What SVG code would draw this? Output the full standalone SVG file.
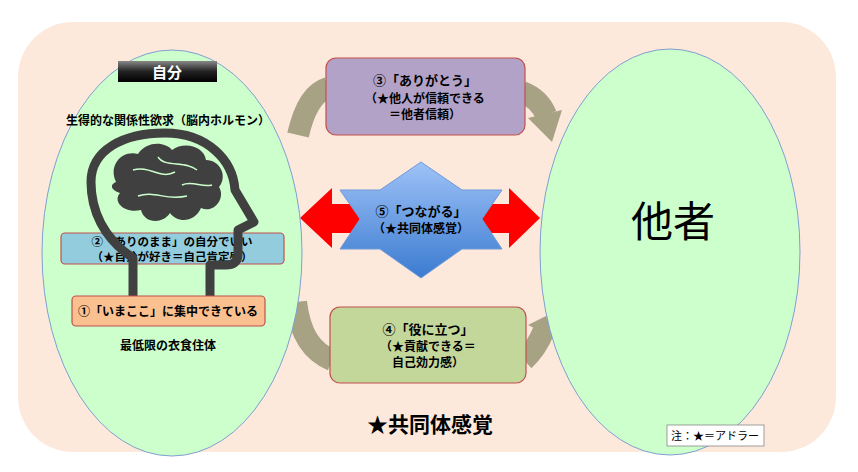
<svg xmlns="http://www.w3.org/2000/svg" width="858" height="472" viewBox="0 0 858 472">
<style>
.t{font-family:"Noto Sans CJK JP","Noto Sans",sans-serif;fill:#000;text-anchor:middle;font-weight:bold}
.box{stroke:#c0504d;stroke-width:1.2}
.arc{fill:none;stroke:#a8a284;stroke-width:22}
.hd{fill:#a8a284}
</style>
<defs>
<linearGradient id="blk" x1="0" y1="0" x2="0" y2="1"><stop offset="0" stop-color="#888"/><stop offset="0.5" stop-color="#222"/><stop offset="1" stop-color="#000"/></linearGradient>
<linearGradient id="star" x1="0" y1="0" x2="0" y2="1"><stop offset="0" stop-color="#9ec2f7"/><stop offset="1" stop-color="#3b7bd0"/></linearGradient>
</defs>
<rect x="18" y="22" width="818" height="430" rx="55" fill="#fde9dc"/>
<g id="connectors">
<path class="arc" d="M298,135 C305,105 315,92 328,88"/>
<path class="arc" d="M522,92 C535,97 542,105 546,115"/>
<polygon class="hd" points="528,118 562,110 552,142"/>
<path class="arc" d="M296,302 C300,335 312,352 332,360"/>
<path class="arc" d="M524,360 C535,350 540,340 544,330"/>
<polygon class="hd" points="528,325 562,308 558,340"/>
<polygon fill="#ff0000" points="300,218 332,188 332,204 370,204 370,233 332,233 332,248"/>
<polygon fill="#ff0000" points="540,218 509,188 509,204 470,204 470,233 509,233 509,248"/>
</g>
<g id="self">
<ellipse cx="172" cy="253" rx="130" ry="203" fill="#ccffcc" stroke="#7f9fcf" stroke-width="1"/>
<rect x="118" y="61" width="99" height="21" fill="url(#blk)"/>
<text class="t" x="167" y="78" font-size="15" style="fill:#fff">自分</text>
<text class="t" x="168" y="125" font-size="12">生得的な関係性欲求（脳内ホルモン）</text>
<text class="t" x="168" y="350" font-size="12">最低限の衣食住体</text>
</g>
<g id="box2">
<rect class="box" x="61" y="233" width="223" height="31" rx="4" fill="#93cddd"/>
<text class="t" x="172" y="246" font-size="11.5">②「ありのまま」の自分でいい</text>
<text class="t" x="172" y="261" font-size="11.5">（★自分が好き＝自己肯定感）</text>
</g>
<g id="head">
<path d="M133,298 L133,258 C103,238 91,210 91,182 C91,150 123,133 165,133 C207,133 233,160 235,190 L254,222 L238,230 L238,255 C238,262 233,265 226,265 L210,265 L210,298" fill="none" stroke="#404040" stroke-width="9" stroke-linejoin="round"/>
<path d="M116,182 C108,165 122,150 138,154 C146,141 165,141 172,150 C184,141 204,146 206,160 C220,160 228,176 219,187 C226,198 214,214 201,208 C195,222 178,224 170,213 C162,225 144,223 141,210 C125,214 112,202 120,193 C110,190 110,184 116,182 Z" fill="#404040"/>
<path d="M133,170 C150,165 160,180 175,172 M158,157 C165,168 185,160 197,170 M138,196 C155,190 165,201 187,196 M182,185 C192,180 202,188 212,185" fill="none" stroke="#ccffcc" stroke-width="1.5"/>
</g>
<g id="box1">
<rect class="box" x="72" y="296" width="193" height="30" rx="4" fill="#fac090"/>
<text class="t" x="168" y="316" font-size="12">①「いまここ」に集中できている</text>
</g>
<g id="box3">
<rect class="box" x="326" y="58" width="199" height="77" rx="10" fill="#b3a2c7"/>
<text class="t" x="425" y="85" font-size="13">③「ありがとう」</text>
<text class="t" x="425" y="103" font-size="12">（★他人が信頼できる</text>
<text class="t" x="425" y="119" font-size="12">＝他者信頼）</text>
</g>
<g id="box4">
<rect class="box" x="330" y="307" width="196" height="76" rx="10" fill="#c4d79b"/>
<text class="t" x="428" y="334" font-size="13">④「役に立つ」</text>
<text class="t" x="428" y="351" font-size="12">（★貢献できる＝</text>
<text class="t" x="428" y="367" font-size="12">自己効力感）</text>
</g>
<g id="star5">
<polygon points="421,162 462,190 502,190 482,219 502,249 462,249 421,278 380,249 340,249 360,219 340,190 380,190" fill="url(#star)" stroke="#6f9ad8" stroke-width="1"/>
<text class="t" x="421" y="216" font-size="13">⑤「つながる」</text>
<text class="t" x="421" y="233" font-size="12">（★共同体感覚）</text>
</g>
<g id="other">
<ellipse cx="670" cy="252" rx="130" ry="203" fill="#ccffcc" stroke="#7f9fcf" stroke-width="1"/>
<text class="t" x="673" y="237" font-size="42" style="font-weight:normal">他者</text>
</g>
<text class="t" x="430" y="432" font-size="21">★共同体感覚</text>
<g id="note">
<rect x="667" y="425" width="97" height="21" fill="#fff" stroke="#888" stroke-width="0.8"/>
<text class="t" x="715" y="440" font-size="11" style="font-weight:normal">注：★＝アドラー</text>
</g>
</svg>
